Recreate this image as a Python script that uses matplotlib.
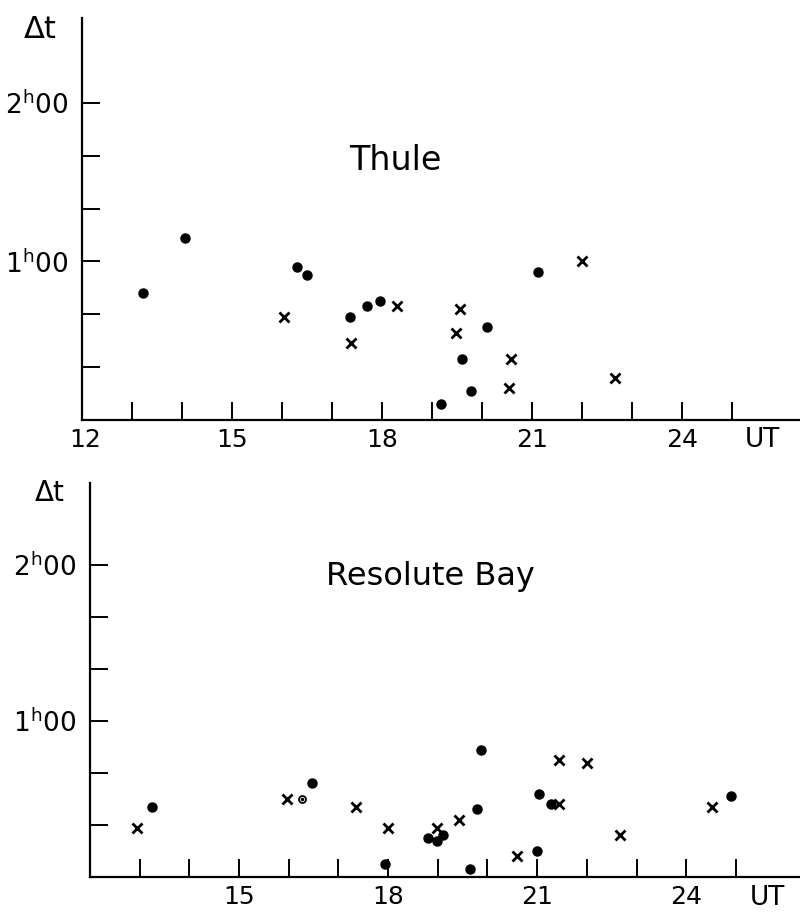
import matplotlib
matplotlib.use("Agg")
import matplotlib.pyplot as plt

plt.rcParams['font.family'] = ['DejaVu Sans']
plt.rcParams['mathtext.fontset'] = 'dejavusans'

# Thule: UT (hours), delta t (minutes)
thule_dot_ut = [13.22, 14.06, 16.29, 16.49, 17.35, 17.69, 17.95, 19.17, 19.60, 19.78, 20.10, 21.12]
thule_dot_dt = [48, 69, 58, 55, 39, 43, 45, 6, 23, 11, 35, 56]
thule_x_ut = [16.03, 17.37, 18.29, 19.56, 19.47, 20.58, 20.54, 22.00, 22.66]
thule_x_dt = [39, 29, 43, 42, 33, 23, 12, 60, 16]

# Resolute Bay
rb_dot_ut = [13.25, 16.47, 17.94, 18.80, 18.98, 19.10, 19.65, 19.79, 19.87, 21.00, 21.04, 21.28, 24.90]
rb_dot_dt = [27, 36, 5, 15, 14, 16, 3, 26, 49, 10, 32, 28, 31]
rb_open_ut = [16.27]
rb_open_dt = [30]
rb_x_ut = [12.95, 15.97, 17.35, 18.00, 18.98, 19.43, 20.59, 21.44, 21.44, 22.00, 22.67, 24.52]
rb_x_dt = [19, 30, 27, 19, 19, 22, 8, 45, 28, 44, 16, 27]

hour_ticks = list(range(13, 26))
x_labels = {15: '15', 18: '18', 21: '21', 24: '24'}
y_ticks = [20, 40, 60, 80, 100, 120]
y_labels = ['', '', r'1$^{\mathrm{h}}$00', '', '', r'2$^{\mathrm{h}}$00']

fig = plt.figure(figsize=(8, 9.15), dpi=100)
ax1 = fig.add_axes([0.1025, 0.541, 0.8975, 0.439])
ax2 = fig.add_axes([0.1125, 0.0415, 0.8875, 0.4305])


def style(ax, xmax, ymax):
    ax.set_xlim(12, xmax)
    ax.set_ylim(0, ymax)
    for s in ['top', 'right']:
        ax.spines[s].set_visible(False)
    for s in ['left', 'bottom']:
        ax.spines[s].set_linewidth(1.6)
    ax.set_xticks(hour_ticks)
    ax.set_xticklabels([x_labels.get(h, '') for h in hour_ticks])
    ax.set_yticks(y_ticks)
    ax.set_yticklabels(y_labels)
    ax.tick_params(axis='x', direction='in', length=13, width=1.4, pad=6, labelsize=18)
    ax.tick_params(axis='y', direction='in', length=13, width=1.4, pad=10, labelsize=19)


style(ax1, 26.35, 152)
ax1.text(12.06, -3, '12', fontsize=18, ha='center', va='top')
style(ax2, 26.29, 151.5)

ax1.plot(thule_dot_ut, thule_dot_dt, 'o', color='black', markersize=6.5, linestyle='none')
ax1.plot(thule_x_ut, thule_x_dt, 'x', color='black', markersize=6.5, markeredgewidth=2, linestyle='none')

ax2.plot(rb_dot_ut, rb_dot_dt, 'o', color='black', markersize=6.5, linestyle='none')
ax2.plot(rb_open_ut, rb_open_dt, 'o', markerfacecolor='white', markeredgecolor='black',
         markersize=5, markeredgewidth=1.3, linestyle='none')
ax2.plot(rb_open_ut, rb_open_dt, 'o', color='black', markersize=1.5, linestyle='none')
ax2.plot(rb_x_ut, rb_x_dt, 'x', color='black', markersize=6.5, markeredgewidth=2, linestyle='none')

fig.text(40 / 800, 1 - 30 / 915, 'Δt', fontsize=22, ha='center', va='center')
fig.text(50 / 800, 1 - 493 / 915, 'Δt', fontsize=20, ha='center', va='center')
fig.text(395 / 800, 1 - 160 / 915, 'Thule', fontsize=24, ha='center', va='center')
fig.text(430 / 800, 1 - 577 / 915, 'Resolute Bay', fontsize=23, ha='center', va='center')
fig.text(762 / 800, 1 - 440 / 915, 'UT', fontsize=19, ha='center', va='center')
fig.text(767 / 800, 1 - 898 / 915, 'UT', fontsize=19, ha='center', va='center')

fig.savefig('out.png', dpi=100)
